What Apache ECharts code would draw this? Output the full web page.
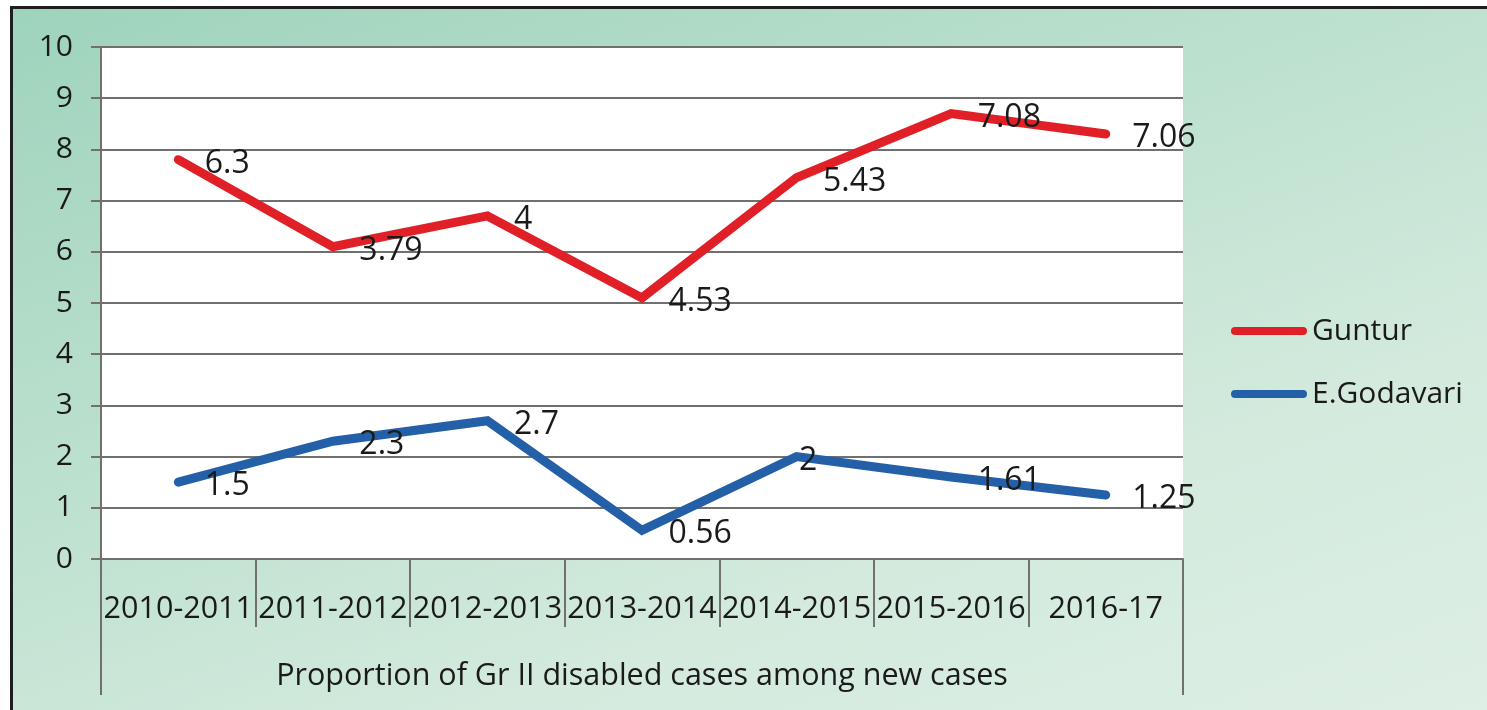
<!DOCTYPE html>
<html>
<head>
<meta charset="utf-8">
<script src="https://cdn.jsdelivr.net/npm/echarts@6/dist/echarts.min.js"></script>
<style>
  html, body { margin: 0; padding: 0; background: #ffffff; }
  #bg {
    position: absolute; left: 10px; top: 6px; width: 1477px; height: 704px;
    border-left: 3px solid #1e1e1e; border-top: 3px solid #1e1e1e;
    background: linear-gradient(160deg, #9ed3bc 0%, #b9dfcc 35%, #d3eadd 70%, #deefe5 100%);
  }
  #main { position: absolute; left: 0; top: 0; width: 1487px; height: 710px; }
</style>
</head>
<body>
<div id="bg"></div>
<div id="main"></div>
<script>
// ---- data ----
var categories = ['2010-2011', '2011-2012', '2012-2013', '2013-2014', '2014-2015', '2015-2016', '2016-17'];
var groupLabel = ['Proportion of Gr II disabled cases among new cases'];
var seriesNames = ['Guntur', 'E.Godavari'];
// plotted positions as drawn in the picture
var gunturValues = [7.8, 6.1, 6.7, 5.1, 7.45, 8.7, 8.3];
var godavariValues = [1.5, 2.3, 2.7, 0.56, 2.0, 1.6, 1.25];
// label texts as printed in the picture
var gunturLabels = ['6.3', '3.79', '4', '4.53', '5.43', '7.08', '7.06'];
var godavariLabels = ['1.5', '2.3', '2.7', '0.56', '2', '1.61', '1.25'];
var yTicks = [0, 10, 1]; // min, max, interval

var FONT = '"Open Sans", sans-serif';
var TXT = '#1a1a1a';

function buildItems(values, labels, overrides) {
  return values.map(function (v, i) {
    var item = { value: v, labelText: labels[i] };
    if (overrides && overrides[i]) item.label = overrides[i];
    return item;
  });
}

var chart = echarts.init(document.getElementById('main'), null, { renderer: 'canvas' });

var labelBase = {
  show: true,
  position: 'right',
  distance: 26,
  offset: [0, 4],
  color: TXT,
  fontSize: 32,
  fontFamily: FONT,
  formatter: function (p) { return p.data.labelText; }
};

var option = {
  backgroundColor: 'transparent',
  animation: false,
  textStyle: { fontFamily: FONT },
  grid: {
    left: 101, top: 47, width: 1082, height: 512,
    show: true, backgroundColor: '#ffffff', borderWidth: 0,
    containLabel: false
  },
  legend: {
    orient: 'vertical',
    left: 1226, top: 311,
    itemWidth: 76, itemHeight: 8,
    itemGap: 33,
    icon: 'path://M4,0 L72,0 A4,4 0 0 1 72,8 L4,8 A4,4 0 0 1 4,0 Z',
    textStyle: { fontSize: 30, color: TXT, fontFamily: FONT, lineHeight: 30 },
    data: seriesNames
  },
  xAxis: [
    {
      type: 'category',
      data: categories,
      boundaryGap: true,
      position: 'bottom',
      axisLine: { show: true, lineStyle: { color: '#707070', width: 2 } },
      axisTick: { show: true, interval: 0, length: 68, lineStyle: { color: '#707070', width: 2 } },
      axisLabel: { interval: 0, color: TXT, fontSize: 30.5, fontFamily: FONT, margin: 35 },
      splitLine: { show: false }
    },
    {
      type: 'category',
      data: groupLabel,
      boundaryGap: true,
      position: 'bottom',
      axisLine: { show: false },
      axisTick: { show: true, interval: 0, length: 136, lineStyle: { color: '#707070', width: 2 } },
      axisLabel: { interval: 0, color: TXT, fontSize: 30.5, fontFamily: FONT, margin: 102 },
      splitLine: { show: false }
    }
  ],
  yAxis: {
    type: 'value',
    min: yTicks[0], max: yTicks[1], interval: yTicks[2],
    axisLine: { show: true, lineStyle: { color: '#707070', width: 2 } },
    axisTick: { show: true, length: 10, lineStyle: { color: '#707070', width: 2 } },
    axisLabel: { color: TXT, fontSize: 30, fontFamily: FONT, margin: 28 },
    splitLine: { show: true, lineStyle: { color: '#707070', width: 2 } }
  },
  series: [
    {
      name: seriesNames[0],
      type: 'line',
      xAxisIndex: 0,
      data: buildItems(gunturValues, gunturLabels),
      symbol: 'circle', symbolSize: 1,
      itemStyle: { color: '#e01f27' },
      lineStyle: { color: '#e01f27', width: 9, cap: 'round', join: 'miter' },
      label: labelBase,
      z: 3
    },
    {
      name: seriesNames[1],
      type: 'line',
      xAxisIndex: 0,
      data: buildItems(godavariValues, godavariLabels, { 4: { distance: 2 } }),
      symbol: 'circle', symbolSize: 1,
      itemStyle: { color: '#2360a8' },
      lineStyle: { color: '#2360a8', width: 9, cap: 'round', join: 'miter' },
      label: labelBase,
      z: 3
    }
  ]
};

chart.setOption(option);
</script>
</body>
</html>
